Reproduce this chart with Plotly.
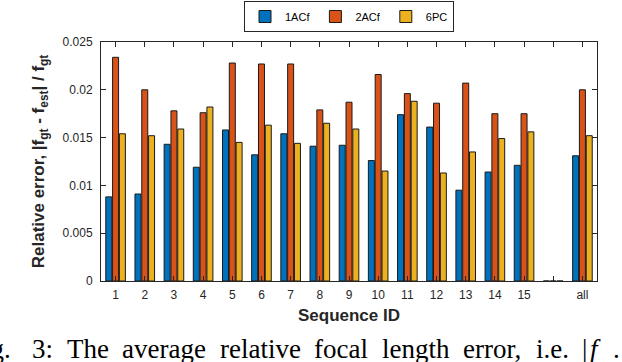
"""
Relative focal length error per sequence, grouped bars (1ACf / 2ACf / 6PC).
"""

import plotly.graph_objects as go

# ---------------------------------------------------------------------
# data

sequence_ids = list(range(1, 18))
tick_labels = [str(i) for i in range(1, 16)] + ["", "all"]

err_1acf = [0.0088, 0.0091, 0.0143, 0.0119, 0.0158, 0.0132, 0.0154, 0.0141,
            0.0142, 0.0126, 0.0174, 0.0161, 0.0095, 0.0114, 0.0121, 0.0, 0.0131]
err_2acf = [0.0234, 0.0200, 0.0178, 0.0176, 0.0228, 0.0227, 0.0227, 0.0179,
            0.0187, 0.0216, 0.0196, 0.0186, 0.0207, 0.0175, 0.0175, 0.0, 0.0200]
err_6pc = [0.0154, 0.0152, 0.0159, 0.0182, 0.0145, 0.0163, 0.0144, 0.0165,
           0.0159, 0.0115, 0.0188, 0.0113, 0.0135, 0.0149, 0.0156, 0.0, 0.0152]

y_ticks = [0, 0.005, 0.01, 0.015, 0.02, 0.025]
y_tick_labels = ["0", "0.005", "0.01", "0.015", "0.02", "0.025"]

# caption words of the paper figure and their left edge in pixels
caption_words = ["Fig.", "3:", "The", "average", "relative", "focal",
                 "length", "error,", "i.e.", "|", "<i>f</i>", "."]
caption_left_px = [-34, 30, 65, 120, 218, 312, 380, 461, 534, 580, 588, 611]

# ---------------------------------------------------------------------
# style

axis_color = "#262626"
edge_color = "#1a1a1a"

plot_left, plot_right = 101, 597
plot_top, plot_bottom = 42, 281
plot_w = plot_right - plot_left
plot_h = plot_bottom - plot_top

series = [
    ("1ACf", err_1acf, "#0072BD"),
    ("2ACf", err_2acf, "#D95319"),
    ("6PC", err_6pc, "#EDB120"),
]

fig = go.Figure()

for name, values, color in series:

    fig.add_trace(
        go.Bar(
            x=sequence_ids,
            y=values,
            name=name,
            marker=dict(
                color=color,
                line=dict(color=edge_color, width=1),
            ),
        )
    )

fig.update_layout(

    width=622,
    height=362,

    barmode="group",
    bargap=0.3,
    bargroupgap=0.12,

    paper_bgcolor="white",
    plot_bgcolor="white",

    font=dict(
        family="Arial, Liberation Sans, sans-serif",
        color=axis_color,
        size=12,
    ),

    margin=dict(
        l=plot_left,
        r=622 - plot_right,
        t=plot_top,
        b=362 - plot_bottom,
    ),

    showlegend=True,

    legend=dict(
        orientation="h",
        x=(349 - plot_left) / plot_w,
        xanchor="center",
        yref="container",
        y=1.0 - 1 / 362,
        yanchor="top",
        bordercolor=axis_color,
        borderwidth=1,
        font=dict(size=11, color="#000000"),
        itemwidth=30,
        tracegroupgap=0,
    ),
)

fig.update_xaxes(
    range=[0.5, 17.5],
    tickmode="array",
    tickvals=sequence_ids,
    ticktext=tick_labels,
    ticks="inside",
    ticklen=5,
    tickcolor=axis_color,
    ticklabelstandoff=3,
    showline=True,
    linecolor=axis_color,
    linewidth=1,
    mirror="ticks",
    showgrid=False,
    zeroline=False,
    automargin=False,
    tickfont=dict(size=12),
    title=dict(
        text="<b>Sequence ID</b>",
        font=dict(size=17, color=axis_color),
        standoff=7,
    ),
)

fig.update_yaxes(
    range=[0, 0.025],
    tickmode="array",
    tickvals=y_ticks,
    ticktext=y_tick_labels,
    ticks="inside",
    ticklen=5,
    tickcolor=axis_color,
    ticklabelstandoff=5,
    showline=True,
    linecolor=axis_color,
    linewidth=1,
    mirror="ticks",
    showgrid=False,
    zeroline=False,
    automargin=False,
    tickfont=dict(size=12),
    title=dict(
        text="<b>Relative error, |f<sub>gt</sub> - f<sub>est</sub>| / f<sub>gt</sub></b>",
        font=dict(size=17, color=axis_color),
        standoff=13,
    ),
)

# caption of the paper figure, cut by the page edges
for word, left in zip(caption_words, caption_left_px):

    fig.add_annotation(
        text=word,
        xref="paper",
        yref="paper",
        x=(left - plot_left) / plot_w,
        y=-(332 - plot_bottom) / plot_h,
        xanchor="left",
        yanchor="top",
        showarrow=False,
        font=dict(
            family="Liberation Serif, Times New Roman, serif",
            size=27,
            color="#000000",
        ),
    )

# page body margin would shift the figure by 8 px
fig.write_html(
    "out.html",
    config=dict(displayModeBar=False),
    post_script="document.body.style.margin = '0';",
)
